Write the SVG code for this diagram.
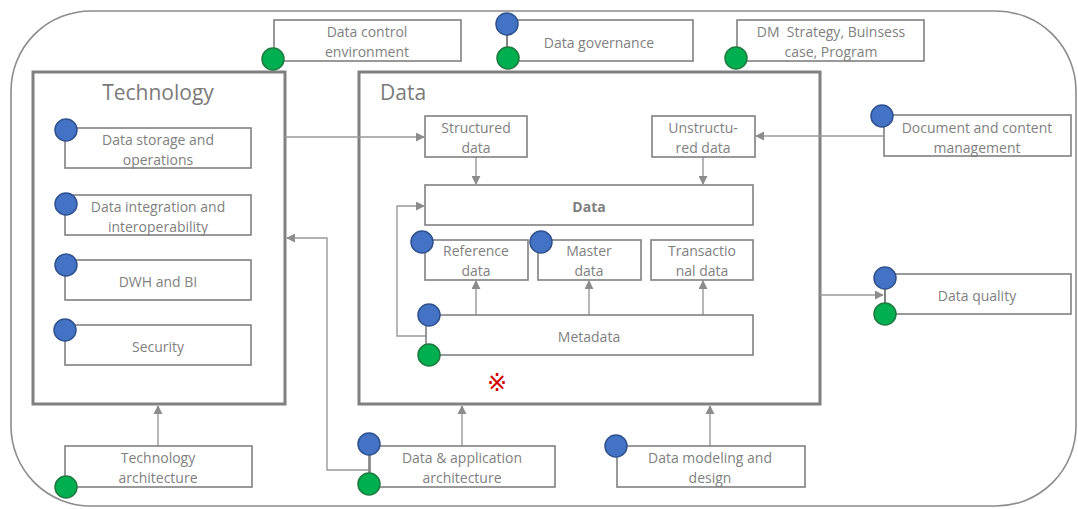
<svg xmlns="http://www.w3.org/2000/svg" width="1078" height="509" viewBox="0 0 1078 509">
  <style>
    .frame { fill: none; stroke: #8c8c8c; stroke-width: 1.6; }
    .area { fill: #ffffff; stroke: #808080; stroke-width: 3; }
    .box { fill: #ffffff; stroke: #808080; stroke-width: 1.6; }
    .lbl { font-family: "Open Sans", "Noto Sans", sans-serif; font-size: 14px; fill: #7f7f7f; text-anchor: middle; dominant-baseline: central; }
    .title { font-family: "Open Sans", "Noto Sans", sans-serif; font-size: 21px; fill: #7a7a7a; dominant-baseline: central; }
    .bold { font-weight: bold; }
    .blue { fill: #4472c4; stroke: #2f528f; stroke-width: 1.5; }
    .green { fill: #00b050; stroke: #1f7a40; stroke-width: 1.5; }
    .conn { fill: none; stroke: #999999; stroke-width: 1.4; }
    .link { stroke: #7f7f7f; stroke-width: 1.6; }
  </style>
  <defs>
    <marker id="arr" viewBox="0 0 10 10" refX="9" refY="5" markerWidth="9" markerHeight="9" markerUnits="userSpaceOnUse" orient="auto">
      <path d="M0,0 L10,5 L0,10 Z" fill="#8c8c8c"/>
    </marker>
  </defs>

  <rect x="0" y="0" width="1078" height="509" fill="#ffffff"/>

  <!-- outer frame -->
  <rect class="frame" x="11" y="11" width="1065" height="495" rx="80" ry="80"/>

  <!-- main areas -->
  <g id="technology">
    <rect class="area" x="33" y="72" width="252" height="332"/>
    <text class="title" x="158" y="92" text-anchor="middle">Technology</text>
  </g>
  <g id="data-area">
    <rect class="area" x="359" y="72" width="461" height="332"/>
    <text class="title" x="380" y="92">Data</text>
  </g>

  <!-- connectors -->
  <g id="connectors">
    <line class="conn" x1="285" y1="137" x2="424" y2="137" marker-end="url(#arr)"/>
    <line class="conn" x1="884" y1="136" x2="756" y2="136" marker-end="url(#arr)"/>
    <line class="conn" x1="476" y1="157" x2="476" y2="184" marker-end="url(#arr)"/>
    <line class="conn" x1="703" y1="157" x2="703" y2="184" marker-end="url(#arr)"/>
    <line class="conn" x1="476" y1="315" x2="476" y2="281" marker-end="url(#arr)"/>
    <line class="conn" x1="589" y1="315" x2="589" y2="281" marker-end="url(#arr)"/>
    <line class="conn" x1="703" y1="315" x2="703" y2="281" marker-end="url(#arr)"/>
    <polyline class="conn" points="426,336 397,336 397,206 424,206" marker-end="url(#arr)"/>
    <line class="conn" x1="820" y1="295" x2="883" y2="295" marker-end="url(#arr)"/>
    <line class="conn" x1="158" y1="447" x2="158" y2="406" marker-end="url(#arr)"/>
    <line class="conn" x1="462" y1="447" x2="462" y2="406" marker-end="url(#arr)"/>
    <line class="conn" x1="710" y1="447" x2="710" y2="406" marker-end="url(#arr)"/>
    <polyline class="conn" points="369,470 327,470 327,238 287,238" marker-end="url(#arr)"/>
  </g>

  <!-- top row -->
  <g id="data-control-environment">
    <rect class="box" x="274" y="20" width="187" height="41"/>
    <text class="lbl" x="367" y="31">Data control</text>
    <text class="lbl" x="367" y="51">environment</text>
    <circle class="green" cx="273" cy="59" r="11"/>
  </g>
  <g id="data-governance">
    <rect class="box" x="507" y="20" width="186" height="41"/>
    <text class="lbl" x="599" y="42">Data governance</text>
    <line class="link" x1="507" y1="24" x2="507" y2="58"/>
    <circle class="blue" cx="507" cy="24" r="11"/>
    <circle class="green" cx="508" cy="58" r="11"/>
  </g>
  <g id="dm-strategy">
    <rect class="box" x="737" y="20" width="187" height="41"/>
    <text class="lbl" x="831" y="31" xml:space="preserve">DM  Strategy, Buinsess</text>
    <text class="lbl" x="831" y="51">case, Program</text>
    <circle class="green" cx="736" cy="58" r="11"/>
  </g>

  <!-- technology components -->
  <g id="data-storage">
    <rect class="box" x="65" y="128" width="186" height="40"/>
    <text class="lbl" x="158" y="139">Data storage and</text>
    <text class="lbl" x="158" y="159">operations</text>
    <circle class="blue" cx="66" cy="130" r="11"/>
  </g>
  <g id="data-integration">
    <rect class="box" x="65" y="195" width="186" height="40"/>
    <text class="lbl" x="158" y="206">Data integration and</text>
    <text class="lbl" x="158" y="226">interoperability</text>
    <circle class="blue" cx="66" cy="204" r="11"/>
  </g>
  <g id="dwh-bi">
    <rect class="box" x="65" y="260" width="186" height="40"/>
    <text class="lbl" x="158" y="281">DWH and BI</text>
    <circle class="blue" cx="66" cy="265" r="11"/>
  </g>
  <g id="security">
    <rect class="box" x="65" y="325" width="186" height="40"/>
    <text class="lbl" x="158" y="346">Security</text>
    <circle class="blue" cx="65" cy="330" r="11"/>
  </g>

  <!-- data components -->
  <g id="structured-data">
    <rect class="box" x="425" y="116" width="102" height="41"/>
    <text class="lbl" x="476" y="127">Structured</text>
    <text class="lbl" x="476" y="147">data</text>
  </g>
  <g id="unstructured-data">
    <rect class="box" x="652" y="116" width="103" height="41"/>
    <text class="lbl" x="703" y="127">Unstructu-</text>
    <text class="lbl" x="703" y="147">red data</text>
  </g>
  <g id="data-core">
    <rect class="box" x="425" y="185" width="328" height="40"/>
    <text class="lbl bold" x="589" y="206">Data</text>
  </g>
  <g id="reference-data">
    <rect class="box" x="425" y="240" width="103" height="40"/>
    <text class="lbl" x="476" y="250">Reference</text>
    <text class="lbl" x="476" y="270">data</text>
    <circle class="blue" cx="422" cy="242" r="11"/>
  </g>
  <g id="master-data">
    <rect class="box" x="538" y="240" width="103" height="40"/>
    <text class="lbl" x="589" y="250">Master</text>
    <text class="lbl" x="589" y="270">data</text>
    <circle class="blue" cx="541" cy="242" r="11"/>
  </g>
  <g id="transactional-data">
    <rect class="box" x="651" y="240" width="102" height="40"/>
    <text class="lbl" x="702" y="250">Transactio</text>
    <text class="lbl" x="702" y="270">nal data</text>
  </g>
  <g id="metadata">
    <rect class="box" x="426" y="315" width="327" height="40"/>
    <text class="lbl" x="589" y="336">Metadata</text>
    <circle class="blue" cx="429" cy="315" r="11"/>
    <circle class="green" cx="429" cy="355" r="11"/>
  </g>
  <text x="497" y="383" font-family="'DejaVu Sans', sans-serif" font-size="24" fill="#d40000" text-anchor="middle" dominant-baseline="central">※</text>

  <!-- right column -->
  <g id="document-content">
    <rect class="box" x="884" y="115" width="187" height="41"/>
    <text class="lbl" x="977" y="127">Document and content</text>
    <text class="lbl" x="977" y="147">management</text>
    <circle class="blue" cx="882" cy="116" r="11"/>
  </g>
  <g id="data-quality">
    <rect class="box" x="885" y="274" width="186" height="40"/>
    <text class="lbl" x="977" y="295">Data quality</text>
    <line class="link" x1="885" y1="278" x2="885" y2="314"/>
    <circle class="blue" cx="885" cy="278" r="11"/>
    <circle class="green" cx="885" cy="314" r="11"/>
  </g>

  <!-- bottom row -->
  <g id="technology-architecture">
    <rect class="box" x="65" y="446" width="187" height="41"/>
    <text class="lbl" x="158" y="457">Technology</text>
    <text class="lbl" x="158" y="477">architecture</text>
    <circle class="green" cx="66" cy="487" r="11"/>
  </g>
  <g id="data-application-architecture">
    <rect class="box" x="370" y="446" width="185" height="41"/>
    <text class="lbl" x="462" y="457">Data &amp; application</text>
    <text class="lbl" x="462" y="477">architecture</text>
    <line class="link" x1="369" y1="444" x2="369" y2="484"/>
    <circle class="blue" cx="369" cy="444" r="11"/>
    <circle class="green" cx="369" cy="484" r="11"/>
  </g>
  <g id="data-modeling">
    <rect class="box" x="617" y="446" width="188" height="41"/>
    <text class="lbl" x="710" y="457">Data modeling and</text>
    <text class="lbl" x="710" y="477">design</text>
    <circle class="blue" cx="616" cy="446" r="11"/>
  </g>
</svg>
